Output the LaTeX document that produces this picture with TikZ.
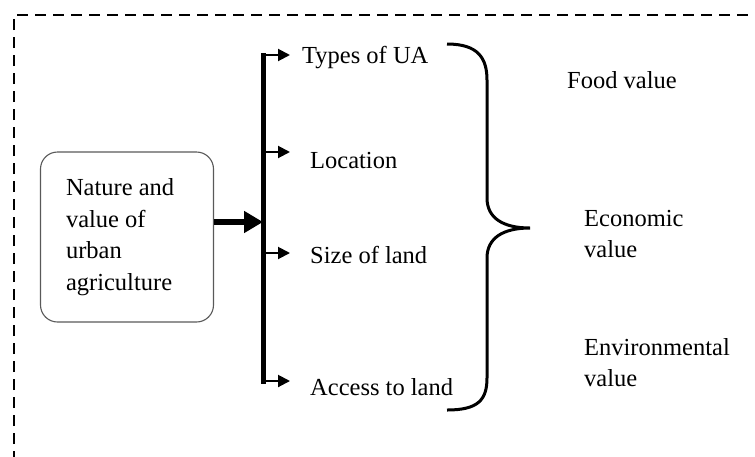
\documentclass[tikz,border=0pt]{standalone}
\usepackage{fontspec}
\setmainfont{Liberation Serif}
\usetikzlibrary{arrows.meta}
\newcommand{\uafont}{\fontsize{24.5}{31.5}\selectfont}

\begin{document}
\begin{tikzpicture}[x=1pt, y=-1pt, font=\uafont, >={Triangle[length=12pt, width=12pt]},
  block/.style={rectangle, draw=black!65, line width=1.1pt, rounded corners=17pt, minimum width=173pt, minimum height=170pt, text width=122pt, inner xsep=25.5pt, align=flush left},
  txt/.style={anchor=base west, inner sep=0pt},
  txttwo/.style={anchor=north west, inner sep=0pt, align=left},
  branch/.style={->, line width=2pt},
  feed/.style={-{Triangle[length=19pt, width=21pt]}, line width=6.5pt},
  bar/.style={line width=5pt, line cap=rect},
  brace/.style={line width=3pt},
  frame/.style={dash pattern=on 11pt off 7pt, line width=2.5pt}]

  \clip (0,0) rectangle (755,456);
  \draw[frame] (14,480) -- (14,15) -- (780,15);

  % source box
  \node[block] (ua) at (127,237) {Nature and\\value of\\urban\\agriculture};

  % the bar and its branches
  \coordinate (bartop) at (263,55);
  \coordinate (barin) at (263,222);
  \coordinate (barbot) at (263,381);
  \coordinate (row2) at (263,152);
  \coordinate (row3) at (263,253);
  \coordinate (tip1) at (290,55);
  \coordinate (tip2) at (290,152);
  \coordinate (tip3) at (290,253);
  \coordinate (tip4) at (290,381);

  \node[txt] (typ) at (302,63) {Types of UA};
  \node[txt] (loc) at (310,168) {Location};
  \node[txt] (siz) at (310,263) {Size of land};
  \node[txt] (acc) at (310,395) {Access to land};

  \node[txt] (food) at (567,88) {Food value};
  \node[txttwo] (econ) at (584,210) {Economic\\value};
  \node[txttwo] (env) at (584,338) {Environmental\\value};

  \draw[feed] (ua.east |- barin) -- (barin);
  \draw[bar] (bartop) -- (barbot);
  \draw[branch] (bartop) -- (tip1);
  \draw[branch] (row2) -- (tip2);
  \draw[branch] (row3) -- (tip3);
  \draw[branch] (barbot) -- (tip4);

  % brace
  \draw[brace] (447,44) .. controls (478,44) and (487,58) .. (487,80) -- (487,198)
    .. controls (487,218) and (503,228) .. (530,228)
    .. controls (503,228) and (487,238) .. (487,258) -- (487,378)
    .. controls (487,400) and (478,410) .. (447,410);

\end{tikzpicture}
\end{document}
